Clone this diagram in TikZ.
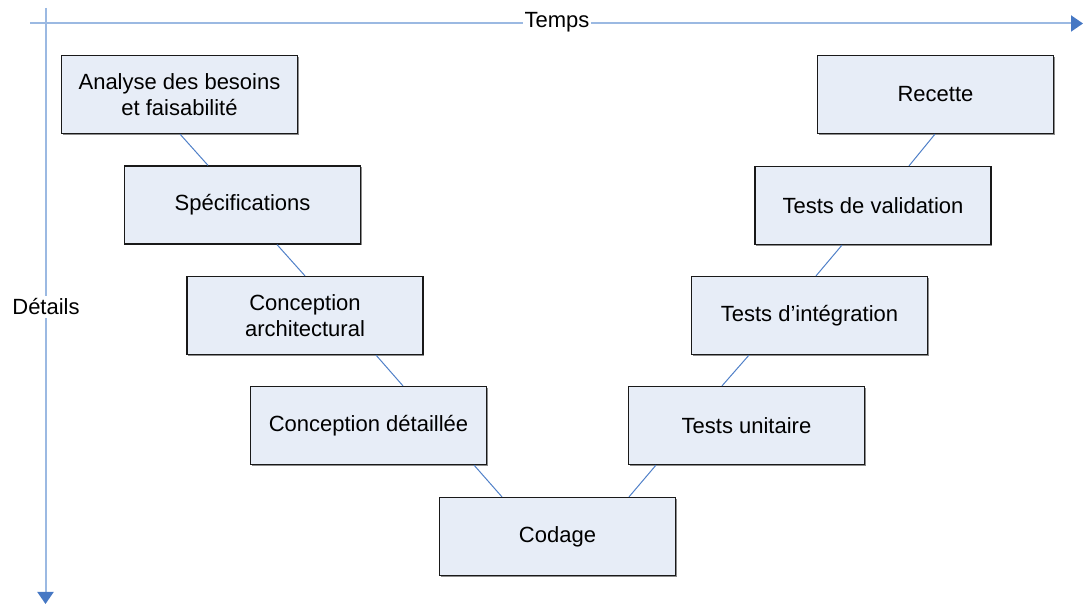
\documentclass[tikz,border=0pt]{standalone}
\usepackage{fontspec}
\setmainfont{Liberation Sans}
\usetikzlibrary{arrows.meta,shadows,calc}
\definecolor{boxfill}{RGB}{231,237,247}
\definecolor{axisline}{RGB}{155,185,226}
\definecolor{axistip}{RGB}{70,120,196}
\definecolor{linkcol}{RGB}{80,128,200}
\begin{document}
\begin{tikzpicture}[x=0.75pt,y=-0.75pt,
  phase/.style={draw=black!90,line width=0.9pt,fill=boxfill,
    minimum width=236*0.75pt,minimum height=78*0.75pt,inner sep=0pt,
    align=center,font=\fontsize{16.5pt}{19.5pt}\selectfont,
    drop shadow={shadow xshift=0.8pt,shadow yshift=-0.8pt,fill=black!45,opacity=1}},
  axis/.style={draw=axisline,line width=1.5pt,-{Triangle[length=9pt,width=12pt,color=axistip]}},
  link/.style={draw=linkcol,line width=0.75pt},
  axislabel/.style={fill=white,inner xsep=1pt,inner ysep=2pt,font=\fontsize{16.5pt}{19.5pt}\selectfont}]
\useasboundingbox (0,0) rectangle (1083,605);
% axes
\coordinate (hstart) at (30,23.5);
\coordinate (hend) at (1083,23.5);
\coordinate (vstart) at (45.5,8);
\coordinate (vend) at (45.5,604);
\draw[axis] (hstart) -- (hend);
\draw[axis] (vstart) -- (vend);
\node[axislabel] (temps) at (557,22) {Temps};
\node[axislabel] (details) at (46,307) {Détails};
% boxes
\node[phase] (a)  at (179.5,94.5) {Analyse des besoins\\et faisabilité};
\node[phase] (s)  at (242.5,205) {Spécifications};
\node[phase] (ca) at (305,315.5) {Conception\\architectural};
\node[phase] (cd) at (368.5,425.5) {Conception détaillée};
\node[phase] (co) at (557.5,536.5) {Codage};
\node[phase] (tu) at (746.5,425.5) {Tests unitaire};
\node[phase] (ti) at (809.5,315.5) {Tests d’intégration};
\node[phase] (tv) at (873,205.5) {Tests de validation};
\node[phase] (r)  at (935.5,94.5) {Recette};
% connectors
\draw[link] ($(a.south)+(0.5,0)$) -- ($(s.north)+(-34.5,0)$);
\draw[link] ($(s.south)+(34.5,0)$) -- ($(ca.north)+(0,0)$);
\draw[link] ($(ca.south)+(71,0)$) -- ($(cd.north)+(34.5,0)$);
\draw[link] ($(cd.south)+(105.5,0)$) -- ($(co.north)+(-55.5,0)$);
\draw[link] ($(co.north)+(71.5,0)$) -- ($(tu.south)+(-90.5,0)$);
\draw[link] ($(tu.north)+(-24.5,0)$) -- ($(ti.south)+(-60.5,0)$);
\draw[link] ($(ti.north)+(6.5,0)$) -- ($(tv.south)+(-31,0)$);
\draw[link] ($(tv.north)+(36,0)$) -- ($(r.south)+(-0.5,0)$);
\end{tikzpicture}
\end{document}
